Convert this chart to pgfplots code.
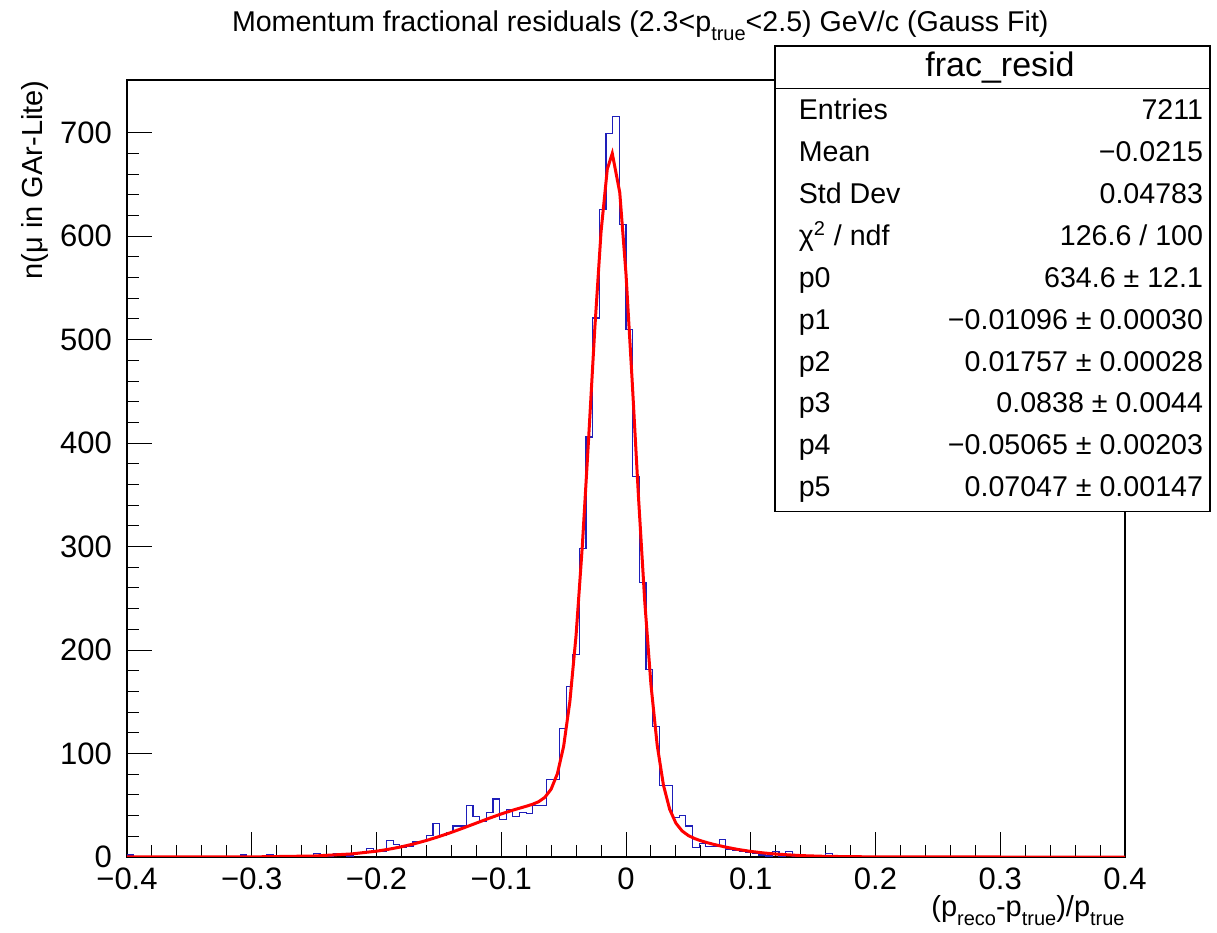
\documentclass[border=0pt]{standalone}
\usepackage{pgfplots}
\pgfplotsset{compat=1.18}
\usepackage{fontspec}
\setmainfont{Liberation Sans}

\definecolor{histblue}{RGB}{30,30,185}
\definecolor{fitred}{RGB}{255,0,0}

\newcommand{\lowsub}[1]{\raisebox{-4.5bp}{\fontsize{10bp}{10bp}\selectfont #1}}

\begin{document}
\begin{tikzpicture}
\useasboundingbox (0,0) rectangle (608.5bp,466.5bp);
\begin{axis}[
    at={(63.5bp,38bp)}, anchor=south west,
    scale only axis, width=499bp, height=388.5bp,
    xmin=-0.4, xmax=0.4, ymin=0, ymax=751,
    xtick={-0.4,-0.3,-0.2,-0.1,0,0.1,0.2,0.3,0.4},
    xticklabels={−0.4,−0.3,−0.2,−0.1,0,0.1,0.2,0.3,0.4},
    ytick={0,100,200,300,400,500,600,700},
    minor x tick num=4, minor y tick num=4,
    tick pos=left, tick align=inside,
    major tick length=12.5bp, minor tick length=6bp,
    tick style={black, line width=0.5bp},
    axis line style={line width=0.6bp},
    ticklabel style={font=\fontsize{15.5bp}{18bp}\selectfont},
    yticklabel style={xshift=-4bp},
    xticklabel style={yshift=-2bp},
    /pgf/number format/assume math mode=true,
]

% histogram, left bin edges (150 bins of 0.8/150), only where content changes
\addplot[histblue, line width=0.6bp, const plot] table {
x y
-0.4 2
-0.394667 0
-0.309333 2
-0.304 0
-0.288 2
-0.282667 0
-0.256 1
-0.250667 3
-0.245333 2
-0.24 1
-0.234667 3
-0.229333 2
-0.224 1
-0.218667 3
-0.213333 3
-0.208 8
-0.202667 5
-0.197333 5
-0.192 16
-0.186667 12
-0.181333 9
-0.176 10
-0.170667 15
-0.165333 15
-0.16 21
-0.154667 32
-0.149333 21
-0.144 24
-0.138667 30
-0.133333 30
-0.128 50
-0.122667 39
-0.117333 34
-0.112 43
-0.106667 56
-0.101333 36
-0.096 46
-0.090667 39
-0.085333 43
-0.08 42
-0.074667 50
-0.069333 50
-0.064 75
-0.058667 75
-0.053333 124
-0.048 165
-0.042667 196
-0.037333 298
-0.032 406
-0.026667 521
-0.021333 626
-0.016 699
-0.010667 716
-0.005333 611
0 510
0.005333 368
0.010667 265
0.016 181
0.021333 126
0.026667 69
0.032 69
0.037333 38
0.042667 40
0.048 30
0.053333 9
0.058667 13
0.064 10
0.069333 10
0.074667 17
0.08 7
0.085333 6
0.090667 5
0.096 4
0.101333 3
0.106667 2
0.112 1
0.117333 5
0.122667 1
0.128 5
0.133333 1
0.138667 1
0.144 0
0.16 3
0.165333 0
0.4 0
};

% fit: gauss + wide gauss, values taken from p0..p5
\addplot[fitred, line width=1.5bp] coordinates {
(-0.4,0) (-0.35,0.01) (-0.3,0.10) (-0.25,0.97) (-0.22,2.96) (-0.2,5.63)
(-0.19,7.53) (-0.18,9.86) (-0.17,12.67) (-0.16,15.96) (-0.15,19.69)
(-0.14,23.80) (-0.13,28.21) (-0.12,32.77) (-0.11,37.30) (-0.1,41.61)
(-0.09,45.53) (-0.08,49.04) (-0.075,50.93) (-0.07,53.45) (-0.065,57.69)
(-0.06,65.62) (-0.055,80.51) (-0.05,106.93) (-0.045,150.15) (-0.04,214.5)
(-0.035,300.8) (-0.03,403.7) (-0.025,511.0) (-0.02,604.3) (-0.015,664.8)
(-0.011,680.0) (-0.005,642.2) (0,563.5) (0.005,459.0) (0.01,348.2)
(0.015,247.5) (0.02,166.6) (0.025,108.1) (0.03,69.55) (0.035,46.14)
(0.04,32.71) (0.045,25.15) (0.05,20.72) (0.055,17.84) (0.06,15.68)
(0.065,13.89) (0.07,12.30) (0.08,9.53) (0.09,7.26) (0.1,5.41) (0.11,3.96)
(0.12,2.83) (0.14,1.37) (0.16,0.61) (0.2,0.10) (0.3,0) (0.4,0)
};
\end{axis}

% title and axis titles
\node[anchor=base west, inner sep=0pt, font=\fontsize{14.3bp}{17bp}\selectfont]
  at (115.8bp,450.7bp)
  {Momentum fractional residuals (2.3<p\lowsub{true}<2.5) GeV/c (Gauss Fit)};
\node[rotate=90, anchor=base east, inner sep=0pt, font=\fontsize{14.5bp}{17bp}\selectfont]
  at (21bp,426.5bp) {n(μ in GAr-Lite)};
\node[anchor=base east, inner sep=0pt, font=\fontsize{14.5bp}{17bp}\selectfont]
  at (562.5bp,8.5bp) {(p\lowsub{reco}-p\lowsub{true})/p\lowsub{true}};

% stats box
\draw[fill=white, line width=0.6bp] (387.5bp,210.6bp) rectangle (605bp,443.5bp);
\draw[line width=0.6bp] (387.5bp,422.3bp) -- (605bp,422.3bp);
\node[anchor=base, inner sep=0pt, font=\fontsize{17bp}{20bp}\selectfont]
  at (500bp,428.2bp) {frac\_resid};
\begin{scope}[every node/.style={inner sep=0pt, font=\fontsize{14.3bp}{17bp}\selectfont}]
\node[anchor=base west] at (399.2bp,406.5bp) {Entries};
\node[anchor=base east] at (601.7bp,406.5bp) {7211};
\node[anchor=base west] at (399.2bp,385.6bp) {Mean};
\node[anchor=base east] at (601.7bp,385.6bp) {−0.0215};
\node[anchor=base west] at (399.2bp,364.6bp) {Std Dev};
\node[anchor=base east] at (601.7bp,364.6bp) {0.04783};
\node[anchor=base west] at (399.2bp,343.7bp) {χ\textsuperscript{2} / ndf};
\node[anchor=base east] at (601.7bp,343.7bp) {126.6 / 100};
\node[anchor=base west] at (399.2bp,322.8bp) {p0};
\node[anchor=base east] at (601.7bp,322.8bp) {634.6 ± 12.1};
\node[anchor=base west] at (399.2bp,301.9bp) {p1};
\node[anchor=base east] at (601.7bp,301.9bp) {−0.01096 ± 0.00030};
\node[anchor=base west] at (399.2bp,280.9bp) {p2};
\node[anchor=base east] at (601.7bp,280.9bp) {0.01757 ± 0.00028};
\node[anchor=base west] at (399.2bp,260.0bp) {p3};
\node[anchor=base east] at (601.7bp,260.0bp) {0.0838 ± 0.0044};
\node[anchor=base west] at (399.2bp,239.1bp) {p4};
\node[anchor=base east] at (601.7bp,239.1bp) {−0.05065 ± 0.00203};
\node[anchor=base west] at (399.2bp,218.2bp) {p5};
\node[anchor=base east] at (601.7bp,218.2bp) {0.07047 ± 0.00147};
\end{scope}
\end{tikzpicture}
\end{document}
